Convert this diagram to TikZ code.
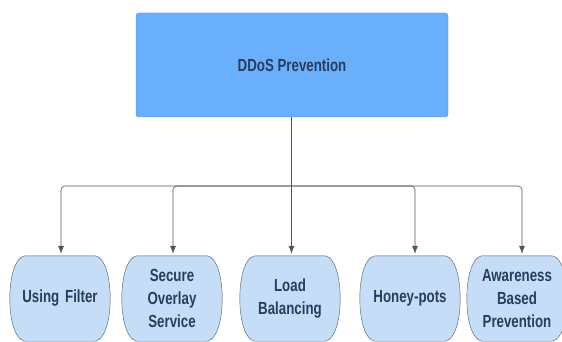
\documentclass[tikz,border=0pt]{standalone}
\usepackage{fontspec}
\usepackage{tikz}
\usetikzlibrary{positioning,calc,arrows.meta,backgrounds}
\newfontfamily\boxfont{Liberation Sans}[FakeStretch=0.76]
\definecolor{topfill}{HTML}{6AAFFC}
\definecolor{topline}{HTML}{5A7FB2}
\definecolor{leaffill}{HTML}{C6DDF7}
\definecolor{leafline}{HTML}{505A66}
\definecolor{labeltext}{HTML}{2A3D5C}
\definecolor{wire}{HTML}{555555}
\tikzstyle{root} = [draw=topline, fill=topfill, rounded corners=3pt, minimum width=312, minimum height=104, font=\boxfont\bfseries\fontsize{17.5}{23}\selectfont, text=labeltext]
\tikzstyle{leaf} = [minimum width=100, minimum height=85, text width=94, align=center, inner sep=0pt, font=\boxfont\bfseries\fontsize{17.5}{23}\selectfont, text=labeltext]
\tikzstyle{leafedge} = [draw=leafline, fill=leaffill]
\tikzstyle{to} = [-{Latex[length=8pt,width=6pt]}, shorten >=2pt, draw=wire, rounded corners=4pt, semithick]

\begin{document}
\begin{tikzpicture}[x=1pt, y=-1pt]
	\useasboundingbox (0,0) rectangle (562,342);
	\node (ddos) [root] at (292,65) {DDoS Prevention};
	\node (filter) [leaf] at (60,298.5) {Using Filter};
	\node (overlay) [leaf] at (172,298.5) {Secure\\Overlay\\Service};
	\node (balance) [leaf] at (290,298.5) {Load\\Balancing};
	\node (honey) [leaf] at (410,298.5) {Honey-pots};
	\node (aware) [leaf] at (517,298.5) {Awareness\\Based\\Prevention};
	% bulging outlines behind the labels
	\begin{scope}[on background layer]
	\foreach \n in {filter,overlay,balance,honey,aware}
		\draw [leafedge] ($(\n.north west)+(15,0)$) -- ($(\n.north east)+(-15,0)$)
			.. controls +(20,3) and +(20,-3) .. ($(\n.south east)+(-15,0)$)
			-- ($(\n.south west)+(15,0)$)
			.. controls +(-20,-3) and +(-20,3) .. ($(\n.north west)+(15,0)$) -- cycle;
	\end{scope}
	\coordinate (bar) at (291.5,186);
	\draw [draw=wire, semithick] (ddos.south -| bar) -- (bar);
	\draw [to] (bar) -| ($(filter.north)+(1,0)$);
	\draw [to] (bar) -| ($(overlay.north)+(1,0)$);
	\draw [to] (bar) -- (bar |- balance.north);
	\draw [to] (bar) -| ($(honey.north)+(5,0)$);
	\draw [to] (bar) -| ($(aware.north)+(5,0)$);
\end{tikzpicture}
\end{document}
